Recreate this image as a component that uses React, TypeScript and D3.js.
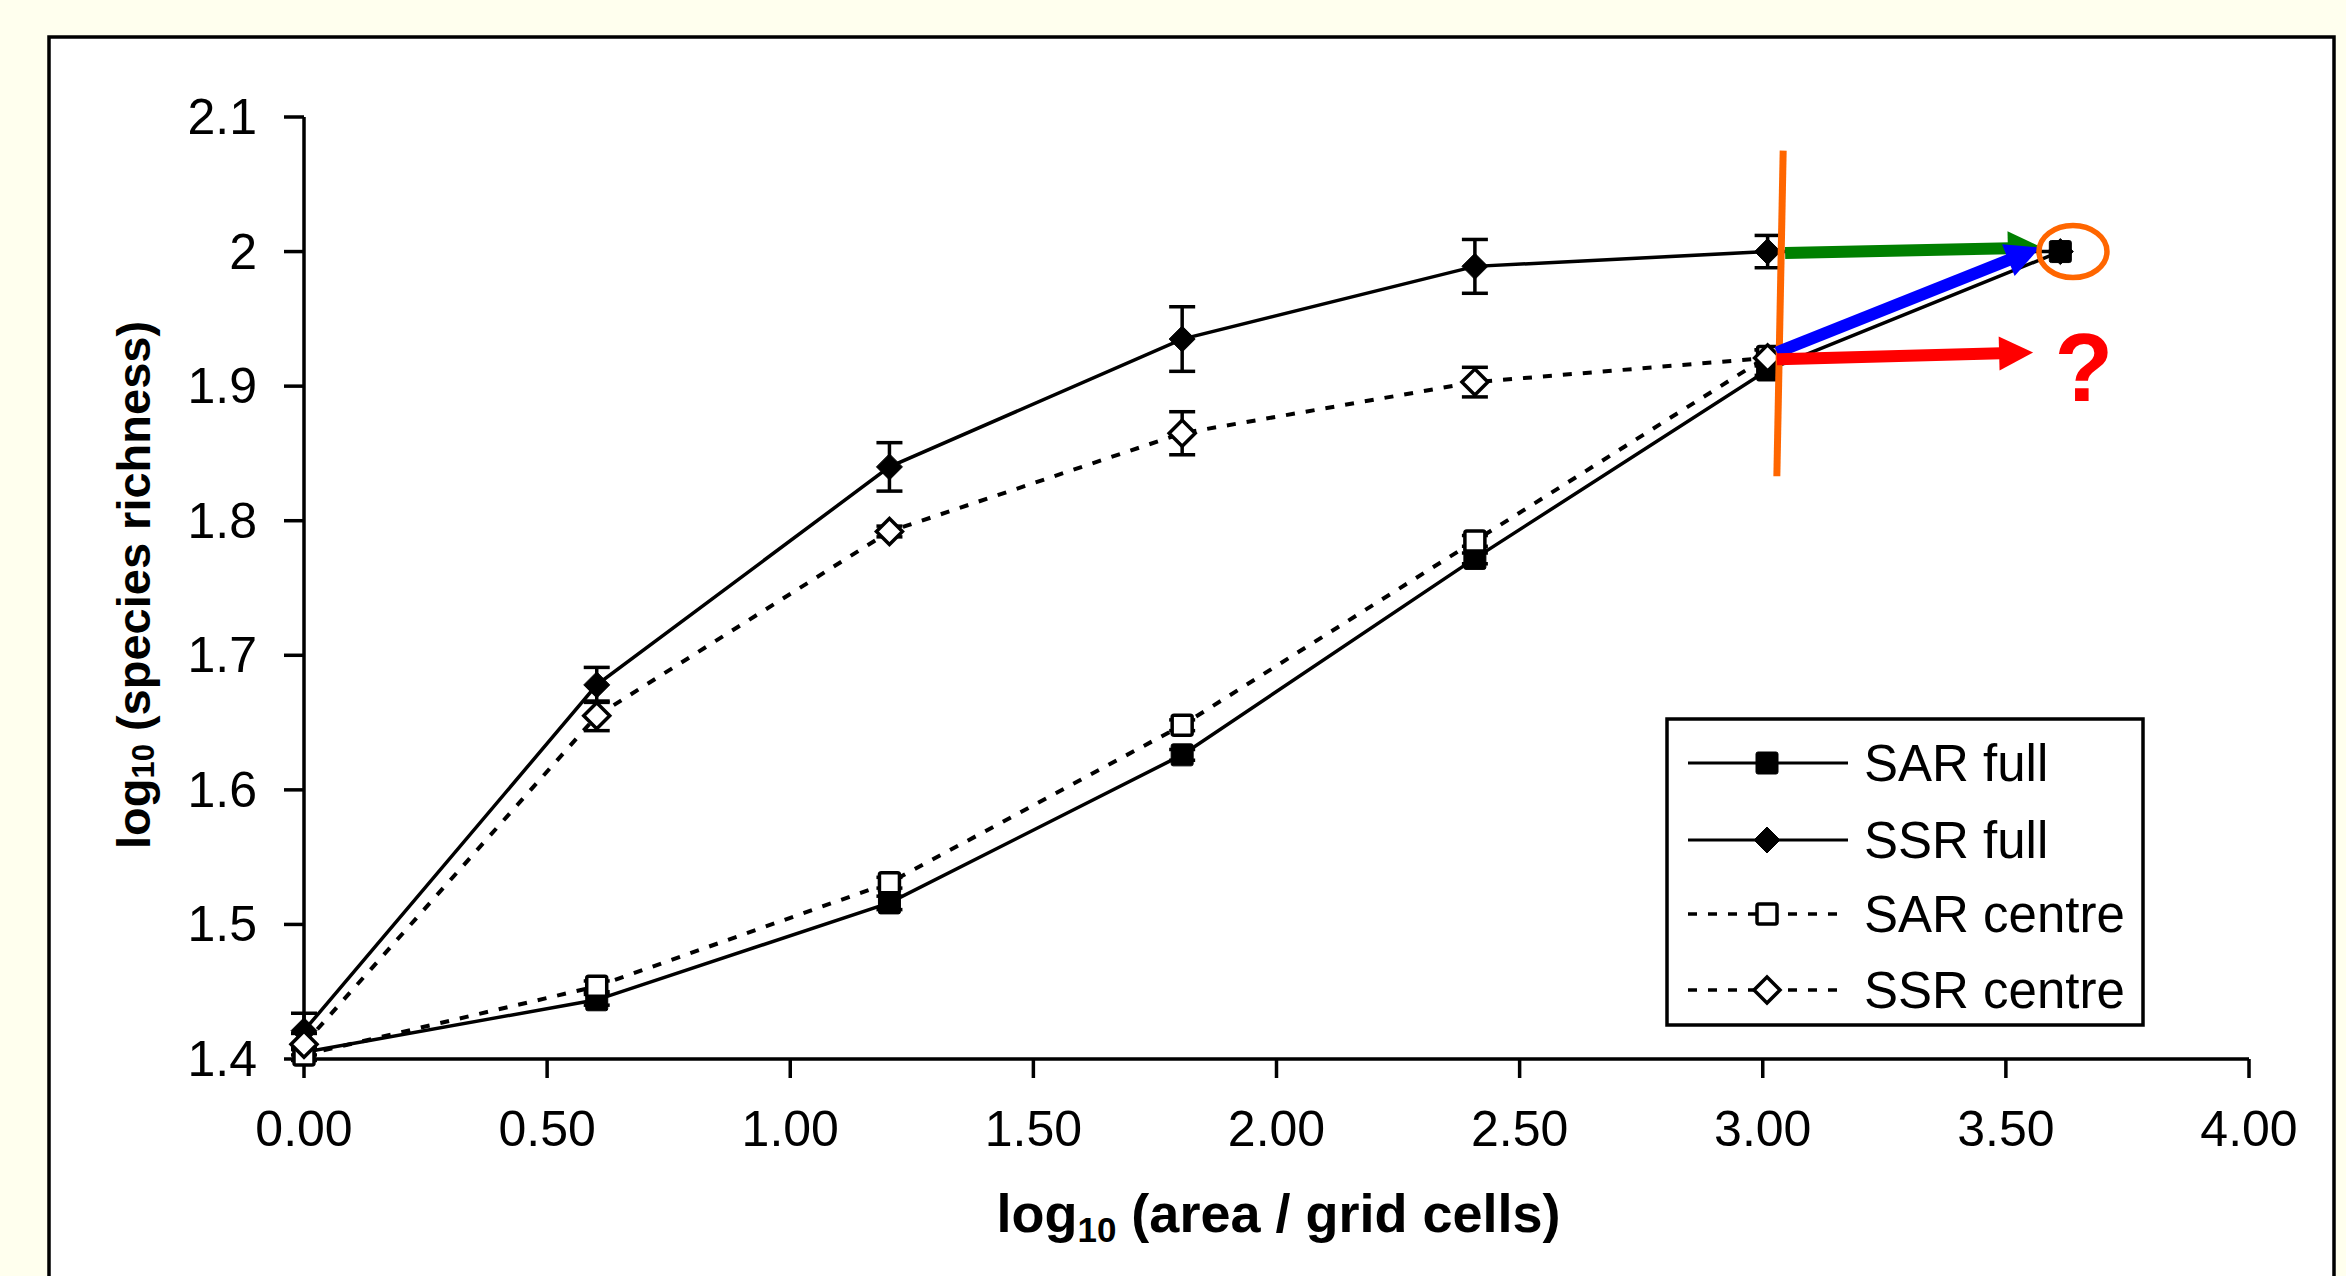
import React from "react";
import * as d3 from "d3";

const W = 2346;
const H = 1276;

// x = log10(area in grid cells)
const xVals = [0, 0.602, 1.204, 1.806, 2.408, 3.01, 3.612];
const sarFull = [1.405, 1.444, 1.516, 1.626, 1.772, 1.912, 2.0];
const sarFullErr = [0.006, 0.004, 0.005, 0.004, 0.004, 0.004, 0];
const ssrFull = [1.421, 1.678, 1.84, 1.935, 1.989, 2.0, 2.0];
const ssrFullErr = [0.013, 0.013, 0.018, 0.024, 0.02, 0.012, 0];
const sarCentre = [1.403, 1.454, 1.531, 1.648, 1.785, 1.922];
const sarCentreErr = [0.004, 0.004, 0.004, 0.004, 0.004, 0.005];
const ssrCentre = [1.411, 1.655, 1.792, 1.865, 1.903, 1.921];
const ssrCentreErr = [0.008, 0.011, 0.004, 0.016, 0.011, 0.006];

const yTicks = [1.4, 1.5, 1.6, 1.7, 1.8, 1.9, 2.0, 2.1];
const yTickLabels = ["1.4", "1.5", "1.6", "1.7", "1.8", "1.9", "2", "2.1"];
const xTicks = [0, 0.5, 1, 1.5, 2, 2.5, 3, 3.5, 4];
const xTickLabels = ["0.00", "0.50", "1.00", "1.50", "2.00", "2.50", "3.00", "3.50", "4.00"];

const legendLabels = ["SAR full", "SSR full", "SAR centre", "SSR centre"];

const FONT = "'Liberation Sans', Arial, sans-serif";

type Series = {
  name: string;
  ys: number[];
  err: number[];
  marker: "square" | "diamond";
  filled: boolean;
  dashed: boolean;
};

const series: Series[] = [
  { name: legendLabels[0], ys: sarFull, err: sarFullErr, marker: "square", filled: true, dashed: false },
  { name: legendLabels[1], ys: ssrFull, err: ssrFullErr, marker: "diamond", filled: true, dashed: false },
  { name: legendLabels[2], ys: sarCentre, err: sarCentreErr, marker: "square", filled: false, dashed: true },
  { name: legendLabels[3], ys: ssrCentre, err: ssrCentreErr, marker: "diamond", filled: false, dashed: true },
];

const x = d3.scaleLinear().domain([0, 4]).range([304, 2249]);
const y = d3.scaleLinear().domain([1.4, 2.1]).range([1059, 117]);

function Marker({ cx, cy, s }: { cx: number; cy: number; s: Series }) {
  if (s.marker === "square") {
    const a = s.filled ? 11 : 10;
    return (
      <rect
        x={cx - a}
        y={cy - a}
        width={2 * a}
        height={2 * a}
        rx={2}
        fill={s.filled ? "#000" : "#fff"}
        stroke="#000"
        strokeWidth={s.filled ? 1 : 3.5}
      />
    );
  }
  const r = 13;
  return (
    <path
      d={`M${cx},${cy - r}L${cx + r},${cy}L${cx},${cy + r}L${cx - r},${cy}Z`}
      fill={s.filled ? "#000" : "#fff"}
      stroke="#000"
      strokeWidth={s.filled ? 1 : 3.5}
      strokeLinejoin="miter"
    />
  );
}

function Arrow({ x1, y1, x2, y2, color }: { x1: number; y1: number; x2: number; y2: number; color: string }) {
  const dx = x2 - x1;
  const dy = y2 - y1;
  const len = Math.sqrt(dx * dx + dy * dy);
  const ux = dx / len;
  const uy = dy / len;
  const headLen = 34;
  const headHalf = 17;
  const bx = x2 - ux * headLen;
  const by = y2 - uy * headLen;
  const px = -uy;
  const py = ux;
  return (
    <g>
      <line x1={x1} y1={y1} x2={bx + ux * 2} y2={by + uy * 2} stroke={color} strokeWidth={12} />
      <path
        d={`M${x2},${y2}L${bx + px * headHalf},${by + py * headHalf}L${bx - px * headHalf},${by - py * headHalf}Z`}
        fill={color}
      />
    </g>
  );
}

export default function App() {
  const line = d3
    .line<[number, number]>()
    .x((d) => x(d[0]))
    .y((d) => y(d[1]));

  const capHalf = 13;

  const legendX = 1667;
  const legendY = 719;
  const legendW = 476;
  const legendH = 306;
  const legendRows = [763, 840, 914, 990];

  return (
    <svg
      width={W}
      height={H}
      style={{ position: "absolute", left: 0, top: 0, background: "#FFFFEE" }}
      xmlns="http://www.w3.org/2000/svg"
    >
      <rect x={0} y={0} width={W} height={H} fill="#FFFFEE" />
      {/* chart frame */}
      <rect x={49} y={37} width={2285} height={1300} fill="#fff" stroke="#000" strokeWidth={3.5} />

      {/* axes */}
      <line x1={x(0)} y1={y(2.1)} x2={x(0)} y2={y(1.4)} stroke="#000" strokeWidth={3.5} />
      <line x1={x(0)} y1={y(1.4)} x2={x(4)} y2={y(1.4)} stroke="#000" strokeWidth={3.5} />
      {yTicks.map((t, i) => (
        <g key={"yt" + i}>
          <line x1={x(0) - 20} x2={x(0)} y1={y(t)} y2={y(t)} stroke="#000" strokeWidth={3.5} />
          <text
            x={257}
            y={y(t)}
            textAnchor="end"
            dominantBaseline="central"
            fontFamily={FONT}
            fontSize={50}
            fill="#000"
          >
            {yTickLabels[i]}
          </text>
        </g>
      ))}
      {xTicks.map((t, i) => (
        <g key={"xt" + i}>
          <line x1={x(t)} x2={x(t)} y1={y(1.4)} y2={y(1.4) + 19} stroke="#000" strokeWidth={3.5} />
          <text x={x(t)} y={1146} textAnchor="middle" fontFamily={FONT} fontSize={50} fill="#000">
            {xTickLabels[i]}
          </text>
        </g>
      ))}

      {/* axis titles */}
      <text x={(x(0) + x(4)) / 2 + 2} y={1232} textAnchor="middle" fontFamily={FONT} fontSize={54} fontWeight="bold" fill="#000">
        log<tspan fontSize={35} dy={10}>10</tspan>
        <tspan dy={-10}> (area / grid cells)</tspan>
      </text>
      <text
        transform={`translate(150,${(y(1.4) + y(2.1)) / 2 - 3}) rotate(-90)`}
        textAnchor="middle"
        fontFamily={FONT}
        fontSize={47}
        fontWeight="bold"
        fill="#000"
      >
        log<tspan fontSize={31} dy={4}>10</tspan>
        <tspan dy={-4}> (species richness)</tspan>
      </text>

      {/* series lines */}
      {series.map((s, si) => {
        const pts: [number, number][] = s.ys.map((v, i) => [xVals[i], v]);
        return (
          <path
            key={"l" + si}
            d={line(pts) || ""}
            fill="none"
            stroke="#000"
            strokeWidth={s.dashed ? 4 : 3.5}
            strokeDasharray={s.dashed ? "9,11" : undefined}
          />
        );
      })}

      {/* error bars */}
      {series.map((s, si) => (
        <g key={"e" + si}>
          {s.ys.map((v, i) =>
            s.err[i] > 0 ? (
              <g key={i}>
                <line x1={x(xVals[i])} x2={x(xVals[i])} y1={y(v - s.err[i])} y2={y(v + s.err[i])} stroke="#000" strokeWidth={3.5} />
                <line x1={x(xVals[i]) - capHalf} x2={x(xVals[i]) + capHalf} y1={y(v + s.err[i])} y2={y(v + s.err[i])} stroke="#000" strokeWidth={3.5} />
                <line x1={x(xVals[i]) - capHalf} x2={x(xVals[i]) + capHalf} y1={y(v - s.err[i])} y2={y(v - s.err[i])} stroke="#000" strokeWidth={3.5} />
              </g>
            ) : null
          )}
        </g>
      ))}

      {/* markers */}
      {series.map((s, si) => (
        <g key={"m" + si}>
          {s.ys.map((v, i) => (
            <Marker key={i} cx={x(xVals[i])} cy={y(v)} s={s} />
          ))}
        </g>
      ))}

      {/* legend */}
      <rect x={legendX} y={legendY} width={legendW} height={legendH} fill="#fff" stroke="#000" strokeWidth={3.5} />
      {series.map((s, i) => (
        <g key={"lg" + i}>
          <line
            x1={1688}
            x2={1848}
            y1={legendRows[i]}
            y2={legendRows[i]}
            stroke="#000"
            strokeWidth={s.dashed ? 3.5 : 3}
            strokeDasharray={s.dashed ? "9,11" : undefined}
          />
          <Marker cx={1767} cy={legendRows[i]} s={s} />
          <text x={1864} y={legendRows[i]} dominantBaseline="central" fontFamily={FONT} fontSize={51} fill="#000">
            {s.name}
          </text>
        </g>
      ))}

      {/* annotations */}
      <line x1={x(3.042)} y1={y(2.075)} x2={x(3.029)} y2={y(1.833)} stroke="#FF6600" strokeWidth={7} />
      <Arrow x1={x(3.046)} y1={y(1.999)} x2={x(3.574)} y2={y(2.003)} color="#008000" />
      <Arrow x1={x(3.029)} y1={y(1.925)} x2={x(3.57)} y2={y(2.003)} color="#0000FF" />
      <Arrow x1={x(3.029)} y1={y(1.92)} x2={x(3.556)} y2={y(1.925)} color="#FF0000" />
      <ellipse cx={x(3.638)} cy={y(2.0)} rx={34} ry={26} fill="none" stroke="#FF6600" strokeWidth={5.5} />
      <text x={x(3.6)} y={y(1.889)} fontFamily={FONT} fontSize={96} fontWeight="bold" fill="#FF0000">
        ?
      </text>
    </svg>
  );
}
